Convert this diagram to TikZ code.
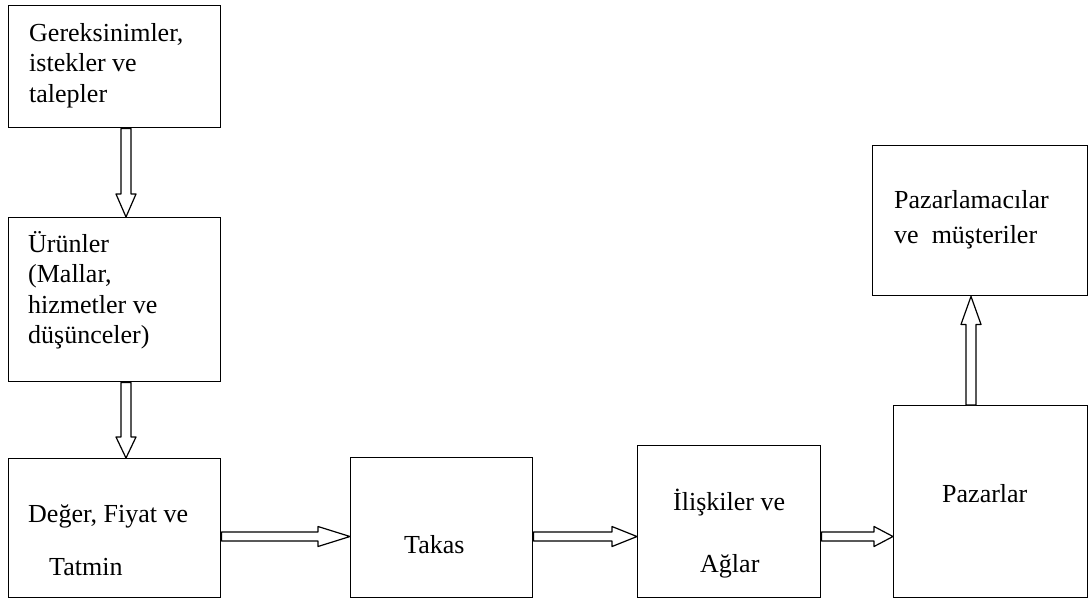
\documentclass[tikz,border=0pt]{standalone}
\usepackage{fontspec}
\setmainfont{Liberation Serif}
\usetikzlibrary{calc}
\tikzset{
  box/.style={draw=black, line width=1.4pt, inner sep=0pt, anchor=north west},
  txt/.style={inner sep=0pt, anchor=base west, font=\fontsize{26}{30}\selectfont},
  arr/.style={draw=black, fill=white, line width=1.2pt, line join=round}
}
\newcommand\hollowDown[4]{%
  \draw[arr] ($(#3|-#1.south)+(-5,0)$) -- ($(#3|-#2.north)+(-5,-#4)$) -- ($(#3|-#2.north)+(-10,-#4)$) -- (#3|-#2.north) -- ($(#3|-#2.north)+(10,-#4)$) -- ($(#3|-#2.north)+(5,-#4)$) -- ($(#3|-#1.south)+(5,0)$) -- cycle;}
\newcommand\hollowUp[4]{%
  \draw[arr] ($(#3|-#1.north)+(-5,0)$) -- ($(#3|-#2.south)+(-5,#4)$) -- ($(#3|-#2.south)+(-10,#4)$) -- (#3|-#2.south) -- ($(#3|-#2.south)+(10,#4)$) -- ($(#3|-#2.south)+(5,#4)$) -- ($(#3|-#1.north)+(5,0)$) -- cycle;}
\newcommand\hollowRight[4]{%
  \draw[arr] ($(#1.east|-#3)+(0,-4.5)$) -- ($(#2.west|-#3)+(-#4,-4.5)$) -- ($(#2.west|-#3)+(-#4,-10)$) -- (#2.west|-#3) -- ($(#2.west|-#3)+(-#4,10)$) -- ($(#2.west|-#3)+(-#4,4.5)$) -- ($(#1.east|-#3)+(0,4.5)$) -- cycle;}
\begin{document}
\begin{tikzpicture}[x=1pt,y=-1pt]
\useasboundingbox (0,0) rectangle (1089,600);
% boxes
\node[box, minimum width=212pt, minimum height=122pt] (b1) at (8,5) {};
\node[box, minimum width=212pt, minimum height=164pt] (b2) at (8,217) {};
\node[box, minimum width=212pt, minimum height=139pt] (b3) at (8,458) {};
\node[box, minimum width=182pt, minimum height=140pt] (b4) at (350,457) {};
\node[box, minimum width=183pt, minimum height=152pt] (b5) at (637,445) {};
\node[box, minimum width=194pt, minimum height=192pt] (b6) at (893,405) {};
\node[box, minimum width=215pt, minimum height=150pt] (b7) at (872,145) {};
% texts
\node[txt] (t1a) at (29,41) {Gereksinimler,};
\node[txt] (t1b) at (29,71.5) {istekler ve};
\node[txt] (t1c) at (29,102) {talepler};
\node[txt] (t2a) at (28,252) {Ürünler};
\node[txt] (t2b) at (28,282.5) {(Mallar,};
\node[txt] (t2c) at (28,313) {hizmetler ve};
\node[txt] (t2d) at (28,343.5) {düşünceler)};
\node[txt] (t3a) at (28,522.5) {Değer, Fiyat ve};
\node[txt] (t3b) at (49,575) {Tatmin};
\node[txt] (t4) at (404,553) {Takas};
\node[txt] (t5a) at (673,510.5) {İlişkiler ve};
\node[txt] (t5b) at (700,572.5) {Ağlar};
\node[txt] (t6) at (942,502) {Pazarlar};
\node[txt] (t7a) at (894,208) {Pazarlamacılar};
\node[txt] (t7b) at (894,243) {ve\ \ müşteriler};
% arrow guide coordinates
\coordinate (xl) at (126,0);
\coordinate (xr) at (971,0);
\coordinate (yh) at (0,536.5);
% arrows
\hollowDown{b1}{b2}{xl}{23}
\hollowDown{b2}{b3}{xl}{21}
\hollowRight{b3}{b4}{yh}{32}
\hollowRight{b4}{b5}{yh}{25}
\hollowRight{b5}{b6}{yh}{19}
\hollowUp{b6}{b7}{xr}{28}
\end{tikzpicture}
\end{document}
